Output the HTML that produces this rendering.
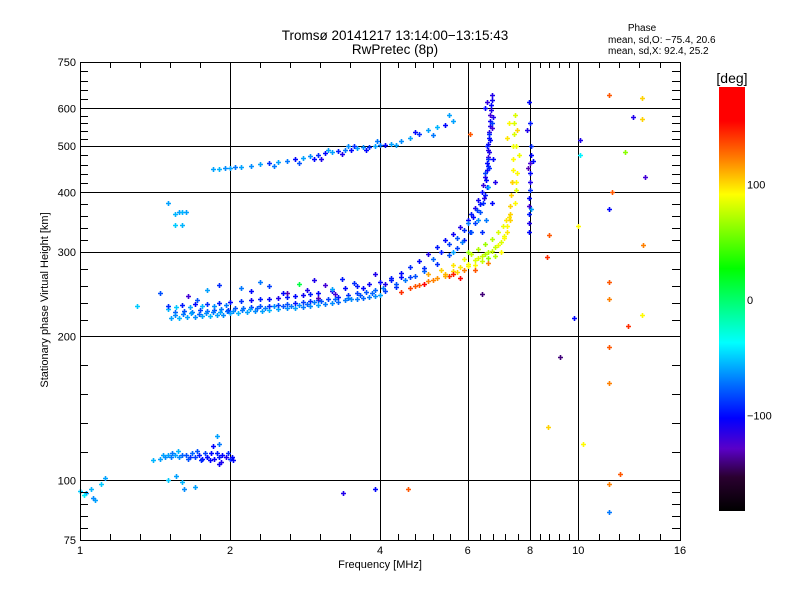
<!DOCTYPE html>
<html><head><meta charset="utf-8"><style>
html,body{margin:0;padding:0;background:#fff;}
svg{display:block;font-family:"Liberation Sans",sans-serif;}
</style></head><body>
<svg id="chart" width="800" height="600" viewBox="0 0 800 600" xmlns="http://www.w3.org/2000/svg">
<defs>
<linearGradient id="cmap" x1="0" y1="1" x2="0" y2="0">
<stop offset="0" stop-color="#000000"/>
<stop offset="0.08" stop-color="#2a0030"/>
<stop offset="0.147" stop-color="#5a00c8"/>
<stop offset="0.219" stop-color="#0000ff"/>
<stop offset="0.30" stop-color="#0070ff"/>
<stop offset="0.397" stop-color="#00ffff"/>
<stop offset="0.572" stop-color="#00ff00"/>
<stop offset="0.747" stop-color="#ffff00"/>
<stop offset="0.83" stop-color="#ff8000"/>
<stop offset="0.92" stop-color="#ff0000"/>
<stop offset="1" stop-color="#ff0000"/>
</linearGradient>
</defs>
<text x="395" y="40" font-size="13.5" text-anchor="middle">Tromsø 20141217 13:14:00−13:15:43</text>
<text x="395" y="54" font-size="13.5" text-anchor="middle">RwPretec (8p)</text>
<text x="642" y="31" font-size="10" text-anchor="middle">Phase</text>
<text x="608" y="43" font-size="10">mean, sd,O: −75.4, 20.6</text>
<text x="608" y="54" font-size="10">mean, sd,X:  92.4, 25.2</text>
<g id="grid"></g>
<g id="marks"></g>
<g id="axes"></g>
<text x="380" y="568" font-size="11" text-anchor="middle">Frequency [MHz]</text>
<text transform="translate(48,300) rotate(-90)" font-size="11" text-anchor="middle">Stationary phase Virtual Height [km]</text>
<rect x="719" y="87" width="26" height="424" fill="url(#cmap)"/>
<text x="732" y="83" font-size="14" text-anchor="middle">[deg]</text>
<g id="cbar"></g>
</svg>
<script>
// axis ticks
const xMajor = [1, 2, 4, 6, 8, 10, 16];
const yMajor = [75, 100, 200, 300, 400, 500, 600, 750];
const cbTicks = [100, 0, -100];

// data clusters: frequency [MHz], virtual height [km], phase [deg]
const fLowA = [1.52,1.58,1.64,1.7,1.76,1.82,1.88,1.94,2.0,2.08,2.16,2.24,2.32,2.4,2.5,2.6,2.7,2.8,2.9,3.0,3.1,3.2,3.3,3.4,3.5,3.6,3.7,3.8,3.9,4.0];
const hLowA = [219,219,220,220,221,221,222,222,224,224,225,226,226,227,228,229,229,230,231,233,234,235,236,238,239,240,241,242,243,244];
const pLowA = [-60,-55,-60,-65,-60,-55,-60,-65,-60,-55,-60,-65,-60,-55,-60,-65,-60,-70,-65,-60,-70,-65,-75,-70,-65,-70,-75,-70,-65,-60];
const fLowB = [1.55,1.62,1.68,1.74,1.8,1.86,1.92,1.98,2.05,2.12,2.2,2.3,2.4,2.5,2.6,2.7,2.8,2.9,3.0,3.15,3.3,3.45,3.6,3.75,3.9,4.05];
const hLowB = [225,226,225,227,226,227,228,227,229,229,230,231,232,233,234,235,236,237,238,240,242,244,246,248,250,252];
const pLowB = [-75,-80,-70,-85,-75,-80,-70,-90,-80,-75,-85,-80,-90,-85,-80,-95,-85,-90,-80,-85,-95,-90,-85,-80,-75,-70];
const fLowC = [1.5,1.55,1.61,1.67,1.73,1.79,1.85,1.91,1.97,2.03,2.11,2.19,2.27,2.35,2.45,2.55,2.65,2.75,2.85,2.95,3.05,3.25,3.45,3.65,3.85,4.1,4.3,1.56,1.66,1.76,1.86,1.96];
const hLowC = [228,222,223,224,223,224,225,225,226,226,227,228,229,229,231,232,232,233,234,236,237,239,241,244,246,249,254,230,230,231,232,233];
const pLowC = [-55,-65,-70,-60,-75,-65,-70,-60,-75,-65,-70,-60,-75,-70,-65,-80,-70,-65,-75,-70,-80,-75,-70,-80,-75,-85,-90,-50,-60,-55,-65,-70];
const fUp = [1.5,1.6,1.7,1.8,1.9,2.0,2.1,2.2,2.3,2.4,2.5,2.6,2.7,2.8,2.9,3.0,3.2,3.4,3.6,3.8,4.0,4.2,4.4];
const hUp = [232,233,234,234,235,236,237,238,239,240,241,242,243,244,245,246,249,252,255,258,260,263,266];
const pUp = [-90,-95,-100,-90,-95,-100,-90,-105,-95,-100,-110,-95,-100,-105,-95,-100,-110,-100,-95,-105,-100,-95,-100];
const fStray = [1.45,1.65,1.8,1.9,2.1,2.2,2.4,2.6,2.75,2.95,3.2,3.35,3.55,3.9,1.3,2.3,3.1,1.72,2.55,2.85,3.25,3.7,4.1,3.0];
const hStray = [246,243,250,256,252,249,255,247,258,262,251,264,259,270,232,260,256,238,246,250,245,252,258,241];
const pStray = [-80,-120,-60,-90,-70,-100,-85,-130,10,-110,-60,-95,-90,-110,-50,-70,-120,-80,-100,-110,-120,-100,-110,-130];
const fO = [4.2,4.4,4.6,4.8,5.0,5.2,5.4,5.6,5.8,6.0,6.1,6.2,6.3,6.4,6.45,6.5,6.55,6.55,6.6,6.6,6.6,6.62,6.62,6.65,6.65,6.65,6.68,6.68,6.7,6.7];
const hO = [265,272,280,288,298,308,318,328,338,350,360,372,385,400,415,430,445,460,475,490,505,520,535,550,565,580,595,610,625,640];
const pO = [-95,-100,-90,-100,-110,-95,-100,-105,-110,-100,-95,-110,-105,-100,-115,-110,-105,-100,-120,-110,-105,-100,-115,-110,-105,-120,-110,-100,-105,-110];
const fO2 = [4.3,4.6,4.9,5.2,5.5,5.7,5.9,6.05,6.2,6.35,6.45,6.5,6.55,6.5,6.6,6.55,6.62,6.7,6.75,6.8,6.58,6.52,6.72,6.4];
const hO2 = [258,266,274,284,296,306,318,330,345,365,380,395,410,440,470,500,530,560,470,420,410,350,380,330];
const pO2 = [-80,-85,-75,-90,-80,-85,-95,-90,-85,-80,-90,-95,-100,-85,-90,-95,-90,-85,-100,-110,-60,-70,-100,-90];
const fO3 = [4.5,4.7,4.9,5.1,5.3,5.5,5.7,5.9,6.0,6.15,6.25,6.35,6.48,6.52,6.58,6.63,6.66,6.7,6.74,6.5,6.56,6.62,5.6,5.85,6.1,6.3];
const hO3 = [262,268,278,290,300,312,322,334,345,355,368,378,390,425,455,485,515,545,575,600,620,450,300,315,330,350];
const pO3 = [-70,-80,-90,-75,-95,-85,-80,-90,-70,-100,-85,-95,-110,-100,-95,-110,-100,-120,-110,-100,-115,-90,-60,-70,-80,-65];
const fX = [4.4,4.6,4.8,5.0,5.2,5.4,5.6,5.8,6.0,6.2,6.4,6.6,6.8,7.0,7.1,7.2,7.25,7.3,7.32,7.35,7.38,7.4,7.4,7.42,7.42];
const hX = [248,252,256,261,265,270,274,279,284,289,295,301,307,315,325,340,355,375,395,420,445,470,500,530,560];
const pX = [140,135,130,120,115,105,100,95,85,80,75,70,75,80,85,90,95,100,100,95,90,90,85,80,80];
const fX2 = [5.0,5.3,5.6,5.9,6.1,6.3,6.5,6.7,6.9,7.05,7.15,7.3,5.8,6.2,6.6,7.0,4.9,5.5,6.0,7.5,7.6,7.55];
const hX2 = [270,276,282,290,298,305,312,320,330,340,350,360,265,275,285,300,257,268,300,420,480,540];
const pX2 = [110,100,95,85,75,70,65,70,80,85,95,100,150,130,120,90,160,140,60,90,85,100];
const fX3 = [4.7,5.1,5.4,5.7,6.0,6.3,6.5,6.7,6.9,7.1,7.2,7.3,7.45,7.5,7.55,7.5,7.45,7.35,6.8,6.6,6.4,6.2,5.9,5.6];
const hX3 = [255,262,267,273,281,292,298,302,310,322,330,350,380,405,440,500,580,420,295,292,288,282,276,270];
const pX3 = [130,120,110,100,90,80,70,75,85,90,95,100,90,80,90,85,80,100,70,60,75,90,120,145];
const fV = [7.95,7.95,7.95,7.98,7.98,8.0,8.0,8.0,8.0,8.02,8.02,7.9,7.95,8.0,7.92,8.04];
const hV = [330,345,360,375,390,405,420,440,460,480,500,540,620,560,450,370];
const pV = [-100,-110,-95,-120,-100,-90,-110,-100,-120,-100,-90,-110,-100,-95,-130,-60];
const fUpper = [1.85,1.9,1.95,2.0,2.05,2.1,2.2,2.3,2.4,2.5,2.6,2.7,2.8,2.9,3.0,3.1,3.2,3.3,3.4,3.5,3.6,3.7,3.8,3.9,4.0,4.1,4.2,4.4,4.6,4.8,5.0,5.2,5.4,5.6];
const hUpper = [448,448,450,450,452,452,455,458,460,463,466,470,473,476,480,483,485,488,490,492,495,497,499,500,502,504,506,512,520,530,540,548,555,565];
const pUpper = [-60,-55,-65,-60,-70,-60,-65,-60,-90,-60,-70,-100,-60,-65,-90,-100,-60,-95,-70,-100,-60,-65,-90,-60,-70,-100,-60,-65,-60,-90,-60,-55,-100,-60];
const fUpper2 = [2.45,2.75,2.95,3.15,3.35,3.55,3.75,3.95,4.3,4.7,5.1,5.5,3.05,3.45];
const hUpper2 = [455,462,470,490,482,500,490,512,502,535,528,580,470,500];
const pUpper2 = [-70,-80,-100,-60,-110,-90,-100,-70,-60,-100,-70,-60,-110,-65];
const fE = [1.4,1.45,1.48,1.5,1.52,1.55,1.58,1.6,1.63,1.66,1.7,1.73,1.76,1.8,1.83,1.86,1.9,1.93,1.96,2.0,2.03,1.5,1.6,1.7,1.8,1.9,1.88,1.85,1.56,1.62];
const hE = [110,111,112,113,112,113,112,113,113,112,112,113,111,112,114,111,112,113,112,111,110,100,99,97,112,119,124,118,102,96];
const pE = [-55,-60,-65,-60,-70,-60,-65,-75,-80,-90,-85,-95,-100,-90,-100,-105,-95,-100,-110,-90,-100,-50,-55,-60,-100,-70,-60,-100,-60,-65];
const fE2 = [1.47,1.53,1.57,1.65,1.68,1.75,1.78,1.82,1.88,1.92,1.98,2.02,1.72,1.9];
const hE2 = [113,114,115,111,114,110,114,110,114,109,114,112,115,108];
const pE2 = [-60,-70,-55,-80,-75,-90,-85,-100,-95,-110,-90,-100,-80,-105];
const fG = [1.0,1.03,1.05,1.07,1.1,1.12,1.06,1.02];
const hG = [95,94,96,91,98,101,92,93];
const pG = [-50,-60,-55,-60,-50,-60,-65,-40];
const fH = [1.5,1.55,1.58,1.6,1.63,1.55,1.6];
const hH = [380,360,365,365,365,342,342];
const pH = [-60,-55,-60,-55,-60,-50,-55];
const fScat = [8.73,8.65,9.2,9.8,10.1,10.1,10.0,10.2,8.7,11.5,11.5,11.5,11.5,11.5,11.5,11.5,11.5,12.1,12.4,12.6,12.9,13.4,13.4,13.6,13.5,13.4,11.7,6.05,8.1,6.4,3.37,3.9,4.55,7.2,7.25];
const hScat = [326,293,181,218,515,480,340,119,129,640,370,260,240,190,160,98,86,103,487,210,575,630,570,430,310,222,400,530,465,245,94,96,96,520,560];
const pScat = [130,140,-140,-100,-110,-40,90,90,100,130,-100,130,120,130,120,120,-70,130,60,140,-110,100,100,-120,120,90,130,130,-100,-140,-110,-100,130,95,90];

const clusters = [
  [fLowA,hLowA,pLowA],[fLowB,hLowB,pLowB],[fLowC,hLowC,pLowC],[fUp,hUp,pUp],[fStray,hStray,pStray],
  [fO,hO,pO],[fO2,hO2,pO2],[fO3,hO3,pO3],[fX,hX,pX],[fX2,hX2,pX2],[fX3,hX3,pX3],[fV,hV,pV],
  [fUpper,hUpper,pUpper],[fUpper2,hUpper2,pUpper2],[fE,hE,pE],[fE2,hE2,pE2],[fG,hG,pG],[fH,hH,pH],[fScat,hScat,pScat]
];

const NS = 'http://www.w3.org/2000/svg';
const X0 = 80, X1 = 680, Y0 = 540, Y1 = 62;
function xs(f){ return X0 + 150*Math.log2(f); }
function ys(h){ return Y0 - 478*Math.log10(h/75); }
function cs(v){ return 300 - 1.155*v; }

const stops = [[-180,[0,0,0]],[-150,[45,0,60]],[-127,[90,0,200]],[-101,[0,0,255]],[-70,[0,120,255]],[-37,[0,255,255]],[26,[0,255,0]],[89,[255,255,0]],[120,[255,128,0]],[151,[255,0,0]],[180,[255,0,0]]];
function color(v){
  v = Math.max(-180, Math.min(180, v));
  for (let i=0;i<stops.length-1;i++){
    const a=stops[i], b=stops[i+1];
    if (v<=b[0]){
      const t=(v-a[0])/(b[0]-a[0]);
      const c=a[1].map((x,k)=>Math.round(x+(b[1][k]-x)*t));
      return 'rgb('+c.join(',')+')';
    }
  }
  return 'rgb(255,0,0)';
}
function mk(tag, attrs, parent){
  const e=document.createElementNS(NS,tag);
  for(const k in attrs) e.setAttribute(k,attrs[k]);
  parent.appendChild(e); return e;
}

const grid=document.getElementById('grid');
const axes=document.getElementById('axes');
const marks=document.getElementById('marks');
const cbar=document.getElementById('cbar');

xMajor.forEach(v=>{
  if(v===1||v===16) return;
  const x=Math.round(xs(v))+0.5;
  const l=mk('line',{x1:x,x2:x,y1:Y1,y2:Y0,stroke:'#000','stroke-width':1},grid);
  
  
});
yMajor.forEach(v=>{
  if(v===75||v===750) return;
  const y=Math.round(ys(v))+0.5;
  const l=mk('line',{x1:X0,x2:X1,y1:y,y2:y,stroke:'#000','stroke-width':1},grid);
  
  
});
for(let i=0;i<xMajor.length-1;i++){
  const a=xs(xMajor[i]), b=xs(xMajor[i+1]);
  for(let k=1;k<5;k++){
    const x=Math.round(a+(b-a)*k/5)+0.5;
    const t1=mk('line',{x1:x,x2:x,y1:Y0,y2:Y0-6,stroke:'#000'},axes);
    
    
    const t2=mk('line',{x1:x,x2:x,y1:Y1,y2:Y1+6,stroke:'#000'},axes);
    
    
  }
}
for(let i=0;i<yMajor.length-1;i++){
  const a=ys(yMajor[i]), b=ys(yMajor[i+1]);
  for(let k=1;k<5;k++){
    const y=Math.round(a+(b-a)*k/5)+0.5;
    const t1=mk('line',{x1:X0,x2:X0+8,y1:y,y2:y,stroke:'#000'},axes);
    
    
    const t2=mk('line',{x1:X1,x2:X1-8,y1:y,y2:y,stroke:'#000'},axes);
    
    
  }
}
const frame=mk('rect',{x:X0+0.5,y:Y1+0.5,width:X1-X0,height:Y0-Y1,fill:'none',stroke:'#000'},axes);


xMajor.forEach(v=>{
  const t=mk('text',{x:xs(v),y:Y0+14,'font-size':11,'text-anchor':'middle'},axes);
  t.textContent=v;
  
  
});
yMajor.forEach(v=>{
  const t=mk('text',{x:X0-4,y:ys(v)+4,'font-size':11,'text-anchor':'end'},axes);
  t.textContent=v;
  
  
});
cbTicks.forEach(v=>{
  const t=mk('text',{x:747,y:cs(v)+4,'font-size':11},cbar);
  t.textContent=v<0?'−'+Math.abs(v):v;
  
  
});
clusters.forEach(c=>{
  const [F,H,P]=c;
  for(let i=0;i<F.length;i++){
    const x=Math.round(xs(F[i]))+0.5, y=Math.round(ys(H[i]))+0.5;
    const p=mk('path',{d:'M'+(x-2.5)+' '+y+'h5M'+x+' '+(y-2.5)+'v5',stroke:color(P[i]),'stroke-width':1.6,fill:'none'},marks);
    
    
  }
});
</script>
</body></html>
